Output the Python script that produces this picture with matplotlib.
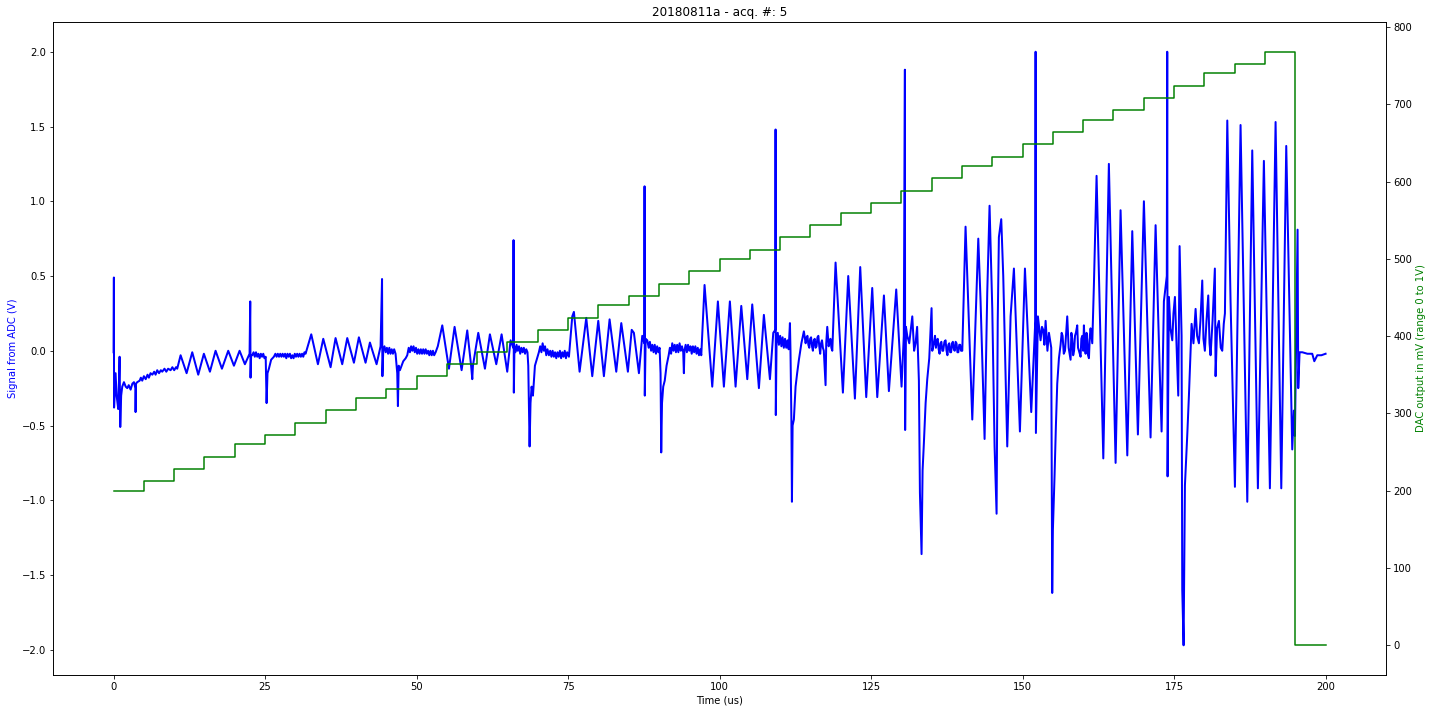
import numpy as np
import matplotlib
matplotlib.use("Agg")
import matplotlib.pyplot as plt

# ADC trace: (time in us, signal in V)
sig_points = [
    (0.0, -0.01), (0.05, 0.49), (0.08, -0.38), (0.33, -0.15), (0.5, -0.30), (0.77, -0.39), (0.99, -0.04), (1.1, -0.51),
    (1.25, -0.30), (1.43, -0.24), (1.71, -0.21), (2.0, -0.24), (2.26, -0.25), (2.5, -0.23), (2.81, -0.26), (3.1, -0.22),
    (3.36, -0.21), (3.6, -0.25), (3.63, -0.41), (3.7, -0.22), (3.9, -0.21), (4.3, -0.20), (4.5, -0.18), (4.73, -0.20),
    (5.0, -0.17), (5.3, -0.19), (5.6, -0.16), (5.83, -0.18), (6.1, -0.15), (6.4, -0.16), (6.7, -0.14), (6.93, -0.16),
    (7.2, -0.13), (7.5, -0.15), (7.8, -0.13), (8.03, -0.14), (8.4, -0.12), (8.7, -0.14), (9.0, -0.12), (9.41, -0.13),
    (9.7, -0.11), (10.0, -0.13), (10.3, -0.11), (10.5, -0.12),
    (11.06, -0.03), (12.05, -0.15), (12.98, -0.01), (13.97, -0.16), (14.9, -0.02), (15.9, -0.14), (16.83, 0.0),
    (17.88, -0.12), (18.92, 0.0), (19.86, -0.10), (20.79, 0.0), (21.67, -0.09), (22.44, -0.02), (22.55, 0.33),
    (22.6, -0.18), (22.7, -0.03), (22.88, -0.03), (23.1, -0.01), (23.3, -0.04), (23.5, -0.01), (23.7, -0.04),
    (23.9, -0.02), (24.1, -0.05), (24.3, -0.02), (24.5, -0.04), (24.7, -0.02), (24.9, -0.05), (25.1, -0.04),
    (25.25, -0.35), (25.4, -0.15), (25.63, -0.12), (26.0, -0.06), (26.45, -0.04), (26.7, -0.02), (26.9, -0.04),
    (27.1, -0.02), (27.3, -0.04), (27.5, -0.02), (27.7, -0.04), (27.9, -0.02), (28.1, -0.04), (28.3, -0.02),
    (28.5, -0.05), (28.7, -0.02), (28.9, -0.04), (29.1, -0.02), (29.3, -0.05), (29.5, -0.03), (29.7, -0.05),
    (29.9, -0.02), (30.1, -0.04), (30.3, -0.02), (30.5, -0.04), (30.7, -0.02), (30.9, -0.04), (31.1, -0.02),
    (31.3, -0.04), (31.5, -0.01), (31.68, -0.02),
    (32.62, 0.11), (33.72, -0.09), (34.6, 0.08), (35.81, -0.11), (36.63, 0.085), (37.73, -0.09), (38.56, 0.085),
    (39.66, -0.08), (40.48, 0.09), (41.58, -0.08), (42.3, 0.055), (43.4, -0.09), (44.06, 0.03), (44.3, 0.48),
    (44.36, -0.17), (44.5, 0.0), (44.7, 0.03), (44.9, -0.01), (45.1, 0.02), (45.3, -0.02), (45.5, 0.02), (45.7, -0.02),
    (45.9, 0.01), (46.1, -0.02), (46.3, 0.01), (46.53, -0.02), (46.81, -0.15), (46.92, -0.37), (47.05, -0.10),
    (47.25, -0.13), (47.8, -0.07), (48.2, -0.05), (48.46, -0.03), (48.7, 0.02), (48.9, -0.01), (49.1, 0.03),
    (49.3, 0.0), (49.5, 0.03), (49.7, -0.01), (49.9, 0.02), (50.1, -0.02), (50.3, 0.01), (50.5, -0.02), (50.7, 0.01),
    (50.9, -0.02), (51.1, 0.01), (51.3, -0.02), (51.5, 0.01), (51.7, -0.02), (51.9, 0.0), (52.1, -0.03), (52.3, 0.0),
    (52.5, -0.03), (52.7, 0.0), (52.9, -0.03), (53.14, -0.01), (53.5, 0.03),
    (54.24, 0.17), (55.34, -0.12), (56.27, 0.16), (57.43, -0.13), (58.36, 0.136), (59.0, -0.10), (59.19, -0.19),
    (59.3, -0.10), (60.18, 0.12), (61.28, -0.12), (62.1, 0.11), (63.15, -0.09), (64.03, 0.11), (64.96, -0.14),
    (65.51, 0.07), (65.95, 0.02), (66.0, 0.74), (66.05, -0.28), (66.15, 0.03), (66.3, -0.01), (66.5, 0.04),
    (66.7, 0.0), (66.9, 0.03), (67.1, -0.02), (67.3, 0.02), (67.5, -0.01), (67.7, 0.02), (67.9, -0.02), (68.1, 0.01),
    (68.3, -0.01), (68.43, -0.10), (68.65, -0.64), (68.8, -0.35), (68.98, -0.24), (69.2, -0.30), (69.53, -0.10),
    (69.9, -0.05), (70.18, -0.01), (70.4, 0.03), (70.6, -0.01), (70.8, 0.05), (71.01, 0.0), (71.2, 0.03),
    (71.4, -0.03), (71.6, 0.01), (71.84, -0.03), (72.05, 0.0), (72.25, -0.04), (72.45, 0.0), (72.65, -0.04),
    (72.85, -0.01), (73.05, -0.05), (73.25, -0.01), (73.45, -0.04), (73.65, 0.0), (73.85, -0.05), (74.05, -0.01),
    (74.25, -0.04), (74.45, 0.0), (74.65, -0.05), (74.85, -0.01), (75.14, -0.04),
    (75.69, 0.23), (75.96, 0.26), (76.9, -0.14), (78.0, 0.22), (78.99, -0.17), (79.98, 0.20), (80.91, -0.17),
    (81.85, 0.21), (82.95, -0.14), (83.78, 0.185), (84.87, -0.14), (85.5, 0.14), (85.86, 0.12), (86.69, -0.15),
    (87.24, 0.10), (87.58, 0.05), (87.62, 1.10), (87.66, -0.30), (87.8, 0.08), (88.07, 0.07), (88.3, 0.02),
    (88.5, 0.06), (88.7, 0.0), (88.9, 0.04), (89.1, -0.01), (89.3, 0.04), (89.5, -0.02), (89.7, 0.03), (89.9, -0.01),
    (90.1, 0.02), (90.26, -0.15), (90.37, -0.68), (90.5, -0.35), (90.7, -0.24), (90.95, -0.20), (91.25, -0.10),
    (91.6, -0.03), (91.8, 0.02), (92.0, -0.02), (92.19, 0.05), (92.4, 0.0), (92.6, 0.04), (92.8, -0.01), (93.0, 0.04),
    (93.2, -0.01), (93.4, 0.05), (93.6, 0.0), (93.8, 0.03), (94.0, -0.01), (94.11, -0.15), (94.2, 0.0), (94.4, 0.04),
    (94.6, -0.01), (94.8, 0.04), (95.0, 0.0), (95.2, 0.03), (95.4, -0.02), (95.6, 0.03), (95.8, -0.01), (96.0, 0.03),
    (96.2, -0.02), (96.4, 0.02), (96.6, -0.03), (96.8, 0.01), (96.98, -0.03),
    (97.52, 0.44), (98.79, -0.24), (99.72, 0.33), (100.71, -0.24), (101.7, 0.33), (102.64, -0.24), (103.58, 0.30),
    (104.57, -0.19), (105.39, 0.31), (106.49, -0.25), (107.31, 0.24), (108.31, -0.19), (108.86, 0.12), (109.2, 0.14),
    (109.24, 1.48), (109.28, -0.43), (109.4, 0.05), (109.6, 0.12), (109.79, 0.04), (110.0, 0.10), (110.2, 0.03),
    (110.4, 0.09), (110.6, 0.02), (110.8, 0.08), (111.0, 0.02), (111.2, 0.07), (111.4, 0.01), (111.61, 0.185),
    (111.7, 0.0), (111.85, -0.46), (111.94, -1.01), (112.05, -0.50), (112.26, -0.46), (112.54, -0.24), (112.8, -0.15),
    (113.09, -0.06), (113.5, 0.05), (113.91, 0.13), (114.2, 0.05), (114.35, 0.09), (114.5, 0.10), (114.65, 0.04),
    (114.8, 0.02), (114.95, 0.08), (115.1, 0.09), (115.25, 0.03), (115.4, 0.0), (115.55, 0.07), (115.7, 0.08),
    (115.85, 0.02), (116.0, 0.03), (116.15, 0.09), (116.3, 0.10), (116.45, 0.03), (116.6, -0.02), (116.75, 0.05),
    (116.9, 0.07), (117.05, 0.02), (117.2, 0.0), (117.49, -0.23), (117.6, 0.05), (117.77, 0.16), (118.0, 0.03),
    (118.15, 0.07), (118.3, 0.08), (118.45, 0.02), (118.6, 0.0),
    (119.14, 0.59), (120.35, -0.28), (121.23, 0.50), (122.33, -0.32), (123.21, 0.56), (124.2, -0.31), (125.19, 0.42),
    (126.02, -0.31), (127.12, 0.37), (127.94, -0.27), (129.15, 0.41), (130.03, -0.24), (130.4, 0.10), (130.58, 1.88),
    (130.62, -0.53), (130.75, 0.16), (130.97, 0.10), (131.3, 0.05), (131.8, 0.23), (132.1, 0.0), (132.34, 0.05),
    (132.6, 0.16), (132.89, -0.20), (133.06, -0.95), (133.33, -1.36), (133.5, -0.80), (133.71, -0.62), (134.0, -0.35),
    (134.27, -0.19), (134.6, -0.05), (134.98, 0.285), (135.1, 0.0), (135.37, 0.05), (135.55, 0.10), (135.7, 0.02),
    (135.85, 0.07), (136.0, 0.08), (136.15, 0.01), (136.3, -0.02), (136.45, 0.05), (136.6, 0.06), (136.75, 0.0),
    (136.9, 0.0), (137.1, 0.06), (137.29, 0.07), (137.45, 0.0), (137.6, -0.03), (137.75, 0.04), (137.9, 0.05),
    (138.05, -0.01), (138.2, -0.01), (138.35, 0.05), (138.5, 0.06), (138.65, 0.01), (138.8, 0.0), (138.95, 0.06),
    (139.1, 0.05), (139.25, -0.01), (139.4, -0.01), (139.55, 0.04), (139.7, 0.04), (139.85, 0.0), (140.05, 0.0),
    (140.59, 0.83), (141.7, -0.46), (142.69, 0.75), (143.07, 0.33), (143.73, -0.59), (144.17, 0.39), (144.55, 0.97),
    (145.0, 0.28), (145.38, -0.64), (145.71, -1.09), (145.9, 0.20), (146.09, 0.76), (146.48, 0.88), (146.81, 0.50),
    (147.47, -0.64), (148.02, 0.23), (148.57, 0.55), (149.56, -0.54), (149.95, -0.03), (150.39, 0.55), (151.43, -0.41),
    (152.1, 0.20), (152.15, 2.0), (152.2, -0.55), (152.53, 0.23), (152.97, 0.07), (153.2, 0.16), (153.4, 0.14),
    (153.6, 0.04), (153.8, 0.20), (154.1, 0.0), (154.35, 0.12), (154.73, 0.02), (154.89, -1.62), (155.0, -1.20),
    (155.28, -0.83), (155.5, -0.50), (155.72, -0.22), (156.0, -0.05), (156.27, 0.04), (156.45, 0.12), (156.6, 0.10),
    (156.8, -0.02), (157.0, 0.0), (157.2, 0.12), (157.37, 0.23), (157.6, 0.02), (157.92, -0.06), (158.05, 0.12),
    (158.2, 0.08), (158.35, -0.03), (158.5, 0.0), (158.65, 0.10), (158.8, 0.12), (159.02, 0.17), (159.15, 0.02),
    (159.3, 0.0), (159.57, -0.04), (159.7, 0.08), (159.85, 0.10), (160.0, 0.0), (160.12, 0.17), (160.25, 0.05),
    (160.4, -0.02), (160.55, 0.12), (160.68, 0.07), (160.8, -0.03), (160.95, -0.05), (161.1, 0.10), (161.22, 0.15),
    (161.5, 0.05), (161.77, 0.44),
    (162.21, 1.17), (163.32, -0.72), (164.24, 1.25), (165.35, -0.75), (166.17, 0.94), (167.28, -0.70), (168.1, 0.80),
    (169.03, -0.56), (170.02, 1.00), (171.12, -0.58), (171.95, 0.84), (172.6, -0.09), (172.94, -0.54), (173.32, 0.33),
    (173.8, 0.50), (173.87, 2.0), (173.93, -0.84), (174.15, 0.36), (174.4, 0.15), (174.7, 0.07), (174.9, 0.25),
    (175.14, 0.36), (175.4, 0.05), (175.69, -0.30), (175.91, 0.70), (176.24, 0.10), (176.35, -1.60), (176.57, -1.97),
    (176.79, -0.90), (177.18, -0.56), (177.45, -0.30), (177.89, 0.18), (178.2, 0.05), (178.55, 0.28), (178.8, 0.10),
    (179.1, 0.05), (179.35, 0.20), (179.65, 0.47), (179.85, 0.08), (180.08, 0.0), (180.35, 0.20), (180.64, 0.37),
    (180.85, 0.05), (181.02, -0.03), (181.35, 0.20), (181.73, 0.55), (181.85, -0.17), (182.1, 0.15), (182.4, 0.20),
    (182.7, 0.02), (182.95, 0.0), (183.2, 0.18), (183.39, 0.25),
    (183.78, 1.54), (184.32, 0.33), (185.04, -0.91), (185.97, 1.51), (187.08, -1.01), (187.9, 1.34), (188.83, -0.92),
    (189.82, 1.27), (190.81, -0.92), (191.75, 1.53), (192.69, -0.92), (193.51, 1.37), (194.5, -0.66), (194.77, -0.40),
    (194.94, -0.57), (195.38, 0.81), (195.49, -0.25), (195.71, -0.01), (196.16, -0.01), (197.0, -0.02), (197.8, -0.02),
    (198.14, -0.07), (198.63, -0.03), (199.3, -0.03), (200.0, -0.02),
]
sig_t = [p[0] for p in sig_points]
sig_v = [p[1] for p in sig_points]

# DAC staircase: one level every 5 us, then back to 0
dac_t = np.arange(0, 205, 5)
dac_mv = [200, 212, 228, 244, 260, 272, 288, 304, 320, 332,
          348, 364, 380, 392, 408, 424, 440, 452, 468, 484,
          500, 512, 528, 544, 560, 572, 588, 604, 620, 632,
          648, 664, 680, 692, 708, 724, 740, 752, 768, 0, 0]

fig = plt.figure(figsize=(1432 / 72, 712 / 72), dpi=72)
ax = fig.add_subplot(111)
fig.subplots_adjust(left=0.037, right=0.968, bottom=0.052, top=0.969)

ax.plot(sig_t, sig_v, color='b', linewidth=2.0)
ax.set_xlabel("Time (us)")
ax.set_ylabel("Signal from ADC (V)", color='b')
ax.set_title("20180811a - acq. #: 5")

ax2 = ax.twinx()
ax2.step(dac_t, dac_mv, where='post', color='g', linewidth=1.5)
ax2.set_ylabel("DAC output in mV (range 0 to 1V)", color='g')

fig.savefig("out.png", dpi=72)
